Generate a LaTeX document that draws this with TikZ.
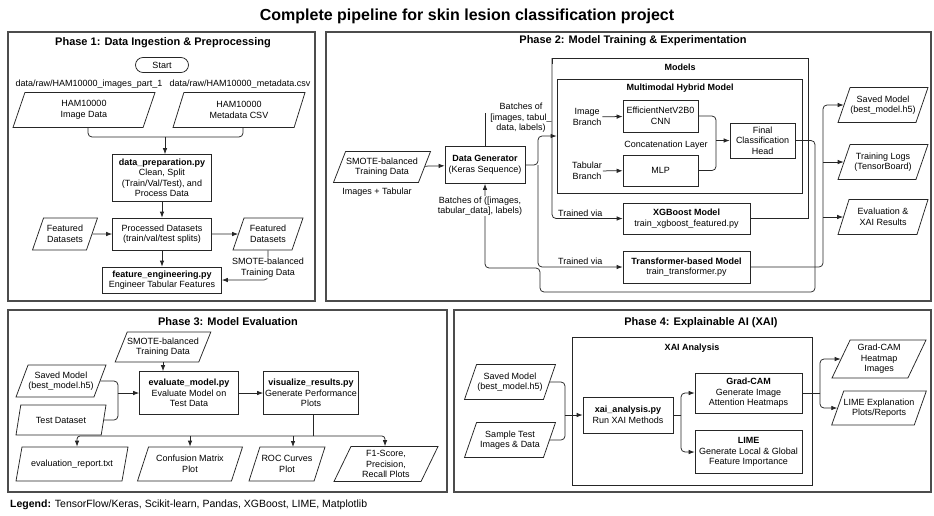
\documentclass[tikz,border=0pt]{standalone}
\usepackage{fontspec}
\setmainfont{Liberation Sans}
\usetikzlibrary{shapes.geometric,shapes.misc,arrows.meta,calc}
\begin{document}
\begin{tikzpicture}[x=1pt,y=-1pt,
  font=\fontsize{9}{10.5}\selectfont,
  sz/.style 2 args={minimum width=#1, minimum height=#2},
  ln/.style={draw=black!85, line width=0.75pt},
  arr/.style={ln, -{Latex[length=6pt,width=4.5pt]}},
  proc/.style={draw=black!85, line width=0.75pt, rectangle, align=center, inner sep=1pt, fill=white},
  io/.style={draw=black!85, line width=0.75pt, trapezium, trapezium left angle=60, trapezium right angle=120, trapezium stretches body, align=center, inner xsep=0pt, inner ysep=1pt, fill=white},
  phase/.style={draw=black!70, line width=1.1pt, rectangle, inner sep=0pt},
  ptitle/.style={font=\fontsize{11}{13}\selectfont\bfseries},
  btitle/.style={font=\fontsize{9}{11}\selectfont\bfseries},
  lab/.style={align=center, inner sep=1pt},
]
\fill[white] (0,0) rectangle (934,515);
\useasboundingbox (0,0) rectangle (934,515);

\node[font=\fontsize{16}{18}\selectfont\bfseries] (title) at (467,16) {Complete pipeline for skin lesion classification project};

% phase frames
\node[phase, sz={307}{269}] (p1) at (161.5,166.5) {};
\node[phase, sz={605}{269}] (p2) at (628.5,166.5) {};
\node[phase, sz={439}{182}] (p3) at (227.5,401) {};
\node[phase, sz={477}{182}] (p4) at (692.5,401) {};
\node[ptitle] (t1) at (163,43) {Phase 1: Data Ingestion \& Preprocessing};
\node[ptitle] (t2) at (633,41) {Phase 2: Model Training \& Experimentation};
\node[ptitle] (t3) at (228,322) {Phase 3: Model Evaluation};
\node[ptitle] (t4) at (701,323) {Phase 4: Explainable AI (XAI)};

% ---------------- Phase 1
\node[draw=black!85, line width=0.75pt, rounded rectangle, sz={55}{15}, inner sep=1pt] (start) at (162,65) {Start};
\node[lab] (path1) at (89,84) {data/raw/HAM10000\_images\_part\_1};
\node[lab] (path2) at (240,84) {data/raw/HAM10000\_metadata.csv};
\node[io, sz={142}{35}] (img) at (84,110) {HAM10000\\Image Data};
\node[io, sz={132}{35}] (meta) at (239,110) {HAM10000\\Metadata CSV};
\node[proc, sz={99}{47}] (prep) at (162,178) {\textbf{data\_preparation.py}\\Clean, Split\\(Train/Val/Test), and\\Process Data};
\node[proc, sz={99}{32}] (proc) at (162,234) {Processed Datasets\\(train/val/test splits)};
\node[io, sz={65}{32}] (featL) at (65,234) {Featured\\Datasets};
\node[io, sz={70}{32}] (featR) at (268,234) {Featured\\Datasets};
\node[proc, sz={119}{26}] (fe) at (162,280) {\textbf{feature\_engineering.py}\\Engineer Tabular Features};
\coordinate (j1) at (165,137);
\draw[ln, rounded corners=4pt] ([xshift=4pt]img.south) |- (j1);
\draw[ln, rounded corners=4pt] ([xshift=4pt]meta.south) |- (j1);
\draw[arr] (j1) -- (j1 |- prep.north);
\draw[arr] (prep) -- (proc);
\draw[arr] (featL) -- (proc);
\draw[arr] (proc) -- (featR);
\draw[arr] (proc) -- (fe);
\draw[arr, rounded corners=4pt] (featR.south) |- node[pos=0.29, lab, fill=white] (smlab1) {SMOTE-balanced\\Training Data} (fe.east);

% ---------------- Phase 2
\node[io, sz={97}{31}] (smote2) at (382,167) {SMOTE-balanced\\Training Data};
\node[lab] (imtab) at (377,192) {Images + Tabular};
\node[proc, sz={80}{37}] (dg) at (485,165) {\textbf{Data Generator}\\(Keras Sequence)};
\draw[arr] (smote2) -- (dg);
\node[lab] (b1) at (521,118) {Batches of\\{[}images, tabul\_\\data, labels)};
\coordinate (dgtop) at (485,113);
\draw[ln] (dg.north -| dgtop) -- (dgtop);

\coordinate (mtl) at (552,58);
\coordinate (mtr) at (808,58);
\node[draw=black!85, line width=0.75pt, sz={245}{114}, inner sep=0pt] (mm) at (679.5,136) {};
\node[btitle] (modt) at (680,67) {Models};
\node[btitle] (mmt) at (680,88) {Multimodal Hybrid Model};
\node[lab] (imgbr) at (587,117) {Image\\Branch};
\node[proc, sz={75}{32}] (eff) at (660.5,116) {EfficientNetV2B0\\CNN};
\node[lab] (concat) at (666,145) {Concatenation Layer};
\node[lab] (tabbr) at (587,171) {Tabular\\Branch};
\node[proc, sz={75}{31}] (mlp) at (660.5,170.5) {MLP};
\node[proc, sz={65}{35}] (fch) at (762.5,140.5) {Final\\Classification\\Head};
\draw[arr] (imgbr) -- (eff);
\draw[arr] (tabbr) -- (mlp);
\coordinate (mj) at (716,140.5);
\draw[ln, rounded corners=4pt] (eff.east) -| (mj);
\draw[ln, rounded corners=4pt] (mlp.east) -| (mj);
\draw[arr] (mj) -- (fch.west);

\node[proc, sz={127}{31}] (xgb) at (686.5,218.5) {\textbf{XGBoost Model}\\train\_xgboost\_featured.py};
\node[proc, sz={127}{32}] (trans) at (686.5,267) {\textbf{Transformer-based Model}\\train\_transformer.py};

% Models frame lines + XGBoost route
\draw[ln] (xgb.east) -| (mtr) -- (mtl) -- ++(0,6);
\draw[arr, rounded corners=4pt] (mtl) |- node[above, pos=0.7, inner sep=2pt] (tv1) {Trained via} (xgb.west);

% Data generator fork
\coordinate (f1) at (538,165);
\draw[arr, rounded corners=4pt] (dg.east) -- (f1) |- (mm.west);
\draw[arr, rounded corners=4pt] (f1) |- node[above, pos=0.75, inner sep=2pt] (tv2) {Trained via} (trans.west);

% feedback from final head to data generator
\coordinate (fb1) at (815,292);
\coordinate (fb2) at (540,292);
\coordinate (fb3) at (485,268);
\draw[arr, rounded corners=4pt] (fch.east) -| (fb1) -- (fb2) |- (fb3) -- (dg.south);
\node[lab, fill=white] (b2) at (480,206) {Batches of ([images,\\tabular\_data], labels)};

% outputs
\coordinate (bus2) at (823,0);
\node[io, sz={90}{35}] (sv2) at (883,105) {Saved Model\\(best\_model.h5)};
\node[io, sz={90}{35}] (logs) at (883,162) {Training Logs\\(TensorBoard)};
\node[io, sz={90}{35}] (ev2) at (883,217) {Evaluation \&\\XAI Results};
\draw[arr, rounded corners=4pt] (trans.east) -| (bus2 |- sv2.west) -- (sv2.west);
\draw[arr] (bus2 |- logs.west) -- (logs.west);
\draw[arr] (bus2 |- ev2.west) -- (ev2.west);

% ---------------- Phase 3
\node[io, sz={84}{30}] (sm3) at (163,347) {SMOTE-balanced\\Training Data};
\node[io, sz={90}{32}] (sv3) at (61,381) {Saved Model\\(best\_model.h5)};
\node[io, sz={90}{30}] (test3) at (61,420) {Test Dataset};
\node[proc, sz={99}{43}] (ev3) at (189,393) {\textbf{evaluate\_model.py}\\Evaluate Model on\\Test Data};
\node[proc, sz={95}{43}] (vis3) at (311,393) {\textbf{visualize\_results.py}\\Generate Performance\\Plots};
\draw[arr] (sm3.south) -- (sm3.south |- ev3.north);
\coordinate (m3) at (118,393);
\draw[ln, rounded corners=4pt] (sv3.east) -| (m3);
\draw[ln, rounded corners=4pt] (test3.east) -| (m3);
\draw[arr] (m3) -- (ev3.west);
\draw[arr] (ev3) -- (vis3);

\node[io, sz={112}{34}] (o1) at (72,464) {evaluation\_report.txt};
\node[io, sz={105}{34}] (o2) at (190,464) {Confusion Matrix\\Plot};
\node[io, sz={76}{34}] (o3) at (287,464) {ROC Curves\\Plot};
\node[io, sz={104}{35}] (o4) at (386,464) {F1-Score,\\Precision,\\Recall Plots};
\coordinate (b3) at (313,436);
\draw[ln] (vis3.south -| b3) -- (b3);
\draw[arr, rounded corners=3pt] (b3) -| ([xshift=5pt]o1.north);
\draw[arr] (b3 -| o2.north) -- (o2.north);
\draw[arr] (b3 -| 293,0) -- (293,447);
\draw[arr, rounded corners=3pt] (b3) -| ([xshift=-1pt]o4.north);

% ---------------- Phase 4
\node[draw=black!85, line width=0.75pt, sz={240}{148}, inner sep=0pt] (xaibox) at (692,411) {};
\node[btitle] (xait) at (692,348) {XAI Analysis};
\node[io, sz={91}{35}] (sv4) at (510,382) {Saved Model\\(best\_model.h5)};
\node[io, sz={91}{35}] (smp4) at (510,440) {Sample Test\\Images \& Data};
\node[proc, sz={90}{36}] (xai) at (628,415) {\textbf{xai\_analysis.py}\\Run XAI Methods};
\node[proc, sz={107}{40}] (gc) at (748.5,393) {\textbf{Grad-CAM}\\Generate Image\\Attention Heatmaps};
\node[proc, sz={107}{43}] (lime) at (748.5,452) {\textbf{LIME}\\Generate Local \& Global\\Feature Importance};
\node[io, sz={94}{38}] (out1) at (879,359) {Grad-CAM\\Heatmap\\Images};
\node[io, sz={94}{34}] (out2) at (879,408) {LIME Explanation\\Plots/Reports};
\coordinate (m4) at (565,415);
\draw[ln, rounded corners=4pt] (sv4.east) -| (m4);
\draw[ln, rounded corners=4pt] (smp4.east) -| (m4);
\draw[arr] (m4) -- (xai.west);
\coordinate (f4) at (681,415);
\draw[ln] (xai.east) -- (f4);
\draw[arr, rounded corners=4pt] (f4) |- (gc.west);
\draw[arr, rounded corners=4pt] (f4) |- (lime.west);
\coordinate (f5) at (820,393);
\draw[ln] (gc.east) -- (f5);
\draw[arr, rounded corners=4pt] (f5) |- (out1.west);
\draw[arr, rounded corners=4pt] (f5) |- (out2.west);

% legend
\node[anchor=west, inner sep=0pt, font=\fontsize{10.5}{12}\selectfont] (legend) at (10,505) {\textbf{Legend:} TensorFlow/Keras, Scikit-learn, Pandas, XGBoost, LIME, Matplotlib};
\end{tikzpicture}
\end{document}
